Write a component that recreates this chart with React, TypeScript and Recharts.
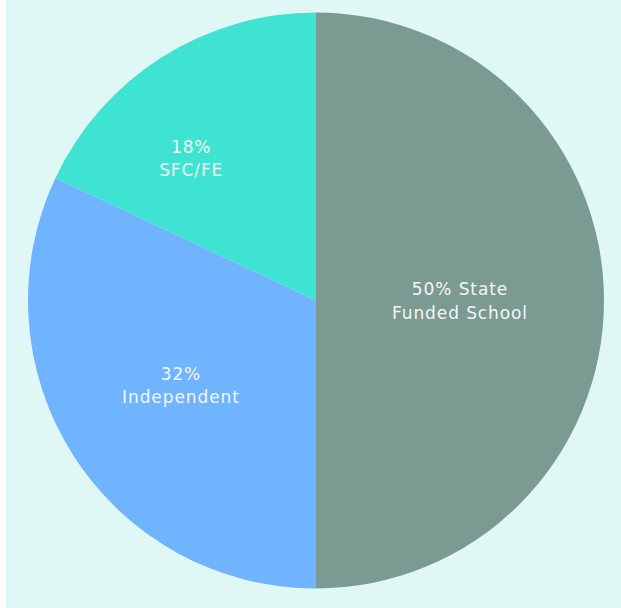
import { Cell, Pie, PieChart } from "recharts";

const segmentNames = ["State Funded School", "Independent", "SFC/FE"];
const segmentShares = [50, 32, 18];
const segmentColors = ["#7a9a92", "#70b3ff", "#3ee3d2"];

// first line / second line as printed on each slice
const labelLines = [
  ["50% State", "Funded School"],
  ["32%", "Independent"],
  ["18%", "SFC/FE"]
];

// label placement: share of the radius, and a nudge off the mid angle (deg)
const labelDistance = [0.5, 0.553, 0.658];
const labelAngleShift = [0, -0.4, 8.8];

const RADIAN = Math.PI / 180;

const data = segmentNames.map((name, i) => ({ name, value: segmentShares[i] }));

function SliceLabel(props: any) {
  const { cx, cy, midAngle, outerRadius, index } = props;
  const r = outerRadius * labelDistance[index];
  const a = (midAngle + labelAngleShift[index]) * RADIAN;
  const x = cx + r * Math.cos(-a);
  const y = cy + r * Math.sin(-a);
  const [first, second] = labelLines[index];
  return (
    <text
      x={x}
      y={y}
      fill="#f2f7f6"
      textAnchor="middle"
      fontFamily="'DejaVu Sans', sans-serif"
      fontSize={17}
      letterSpacing={0.9}
    >
      <tspan x={x} dy="-0.3em">{first}</tspan>
      <tspan x={x} dy="1.37em">{second}</tspan>
    </text>
  );
}

export default function App() {
  return (
    <div
      style={{
        position: "absolute",
        left: 6,
        top: 0,
        width: 615,
        height: 608,
        background: "#e0f8f5"
      }}
    >
      <PieChart width={615} height={608} margin={{ top: 0, right: 0, bottom: 0, left: 0 }}>
        <Pie
          data={data}
          dataKey="value"
          nameKey="name"
          cx={310}
          cy={300.5}
          outerRadius={288}
          startAngle={90}
          endAngle={-270}
          stroke="none"
          labelLine={false}
          label={SliceLabel}
          isAnimationActive={false}
        >
          {data.map((d, i) => (
            <Cell key={d.name} fill={segmentColors[i]} />
          ))}
        </Pie>
      </PieChart>
    </div>
  );
}
